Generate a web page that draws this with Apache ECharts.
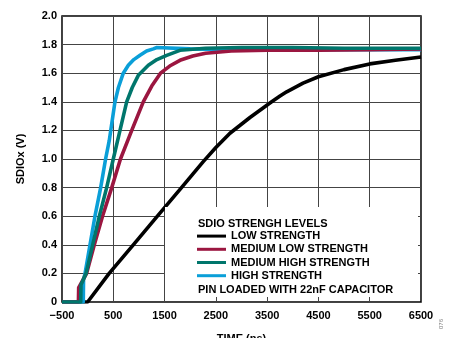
<!DOCTYPE html>
<html>
<head>
<meta charset="utf-8">
<script src="https://cdn.jsdelivr.net/npm/echarts@6/dist/echarts.min.js"></script>
<style>
  html, body { margin: 0; padding: 0; background: #fff; }
  #chart { width: 456px; height: 338px; }
</style>
</head>
<body>
<div id="chart"></div>
<script>
// values (time in ns, voltage in V)
var lowTime  = [-500, 0, 15, 420, 890, 1360, 1830, 2250, 2500, 2775, 3165, 3588, 3751, 3881, 4200, 4500, 5000, 5500, 6000, 6500];
var lowVolt  = [0, 0, 0.01, 0.2, 0.4, 0.6, 0.8, 0.98, 1.08, 1.18, 1.29, 1.4, 1.44, 1.47, 1.53, 1.575, 1.625, 1.665, 1.69, 1.713];

var medLowTime = [-500, -180, -175, -20, 130, 290, 470, 640, 860, 1085, 1250, 1420, 1600, 1800, 2050, 2300, 2800, 3500, 4500, 5500, 6500];
var medLowVolt = [0, 0, 0.1, 0.2, 0.4, 0.6, 0.8, 1.0, 1.2, 1.4, 1.51, 1.6, 1.65, 1.69, 1.72, 1.74, 1.755, 1.76, 1.76, 1.765, 1.77];

var medHighTime = [-500, -135, -130, -30, 98, 228, 371, 500, 631, 761, 870, 988, 1183, 1350, 1541, 1800, 2300, 3000, 4000, 5000, 6500];
var medHighVolt = [0, 0, 0.12, 0.2, 0.4, 0.6, 0.8, 1.0, 1.2, 1.4, 1.5, 1.585, 1.655, 1.695, 1.725, 1.76, 1.775, 1.78, 1.78, 1.775, 1.775];

var highTime = [-500, -85, -80, -50, 46, 143, 254, 350, 422, 533, 600, 695, 793, 900, 1021, 1150, 1280, 1350, 2000, 3000, 4500, 6500];
var highVolt = [0, 0, 0.16, 0.2, 0.4, 0.6, 0.8, 1.0, 1.13, 1.4, 1.5, 1.6, 1.655, 1.695, 1.725, 1.755, 1.77, 1.78, 1.77, 1.765, 1.765, 1.765];

var seriesNames = ['LOW STRENGTH', 'MEDIUM LOW STRENGTH', 'MEDIUM HIGH STRENGTH', 'HIGH STRENGTH'];
var seriesColors = ['#000000', '#9b1640', '#00766c', '#0a9fd8'];
var legendTitle = 'SDIO STRENGH LEVELS';
var legendNote = 'PIN LOADED WITH 22nF CAPACITOR';

function pairs(t, v) {
    var out = [];
    for (var i = 0; i < t.length; i++) out.push([t[i], v[i]]);
    return out;
}

var font = '"Liberation Sans", Arial, sans-serif';
var chart = echarts.init(document.getElementById('chart'), null, {renderer: 'canvas'});

function lineSeries(idx, t, v, z) {
    return {
        name: seriesNames[idx],
        type: 'line',
        data: pairs(t, v),
        showSymbol: false,
        symbol: 'none',
        z: z,
        lineStyle: {color: seriesColors[idx], width: 3.6, join: 'round'},
        itemStyle: {color: seriesColors[idx]},
        animation: false
    };
}

var option = {
    animation: false,
    grid: {
        left: 62, top: 16, right: 35, bottom: 36,
        outerBoundsMode: 'none',
        show: true, borderColor: '#000', borderWidth: 1.5
    },
    xAxis: {
        type: 'value',
        min: -500, max: 6500, interval: 1000,
        name: 'TIME (ns)', nameLocation: 'middle', nameGap: 31,
        nameTextStyle: {fontFamily: font, fontWeight: 'bold', fontSize: 11, color: '#000'},
        axisLine: {show: false},
        axisTick: {show: false},
        axisLabel: {
            margin: 8, fontFamily: font, fontWeight: 'bold', fontSize: 11, color: '#000',
            formatter: function (v) { return v < 0 ? '\u2212' + Math.abs(v) : String(v); }
        },
        splitLine: {show: true, lineStyle: {color: '#444', width: 1}}
    },
    yAxis: {
        type: 'value',
        min: 0, max: 2.0, interval: 0.2,
        name: 'SDIOx (V)', nameLocation: 'middle', nameGap: 36, nameRotate: 90,
        nameTextStyle: {fontFamily: font, fontWeight: 'bold', fontSize: 11, color: '#000'},
        axisLine: {show: false},
        axisTick: {show: false},
        axisLabel: {
            margin: 5, fontFamily: font, fontWeight: 'bold', fontSize: 11, color: '#000',
            formatter: function (v) { return v === 0 ? '0' : v.toFixed(1); }
        },
        splitLine: {show: true, lineStyle: {color: '#444', width: 1}}
    },
    legend: {
        data: seriesNames,
        orient: 'vertical',
        left: 197, top: 229.5,
        padding: 0,
        itemGap: 0,
        itemWidth: 29, itemHeight: 3,
        icon: 'rect',
        selectedMode: false,
        z: 6,
        textStyle: {fontFamily: font, fontWeight: 'bold', fontSize: 11, color: '#000', lineHeight: 13.2}
    },
    graphic: [
        {type: 'rect', z: 4, shape: {x: 165, y: 207, width: 253, height: 90}, style: {fill: '#fff'}},
        {type: 'text', z: 6, x: 198, y: 218, style: {text: legendTitle, font: 'bold 11px ' + font, fill: '#000'}},
        {type: 'text', z: 6, x: 198, y: 284, style: {text: legendNote, font: 'bold 11px ' + font, fill: '#000'}},
        {type: 'text', z: 6, x: 438, y: 329, rotation: Math.PI / 2, style: {text: '076', font: '6px ' + font, fill: '#777'}}
    ],
    series: [
        lineSeries(0, lowTime, lowVolt, 2),
        lineSeries(3, highTime, highVolt, 2),
        lineSeries(1, medLowTime, medLowVolt, 3),
        lineSeries(2, medHighTime, medHighVolt, 3)
    ]
};

chart.setOption(option);
</script>
</body>
</html>
